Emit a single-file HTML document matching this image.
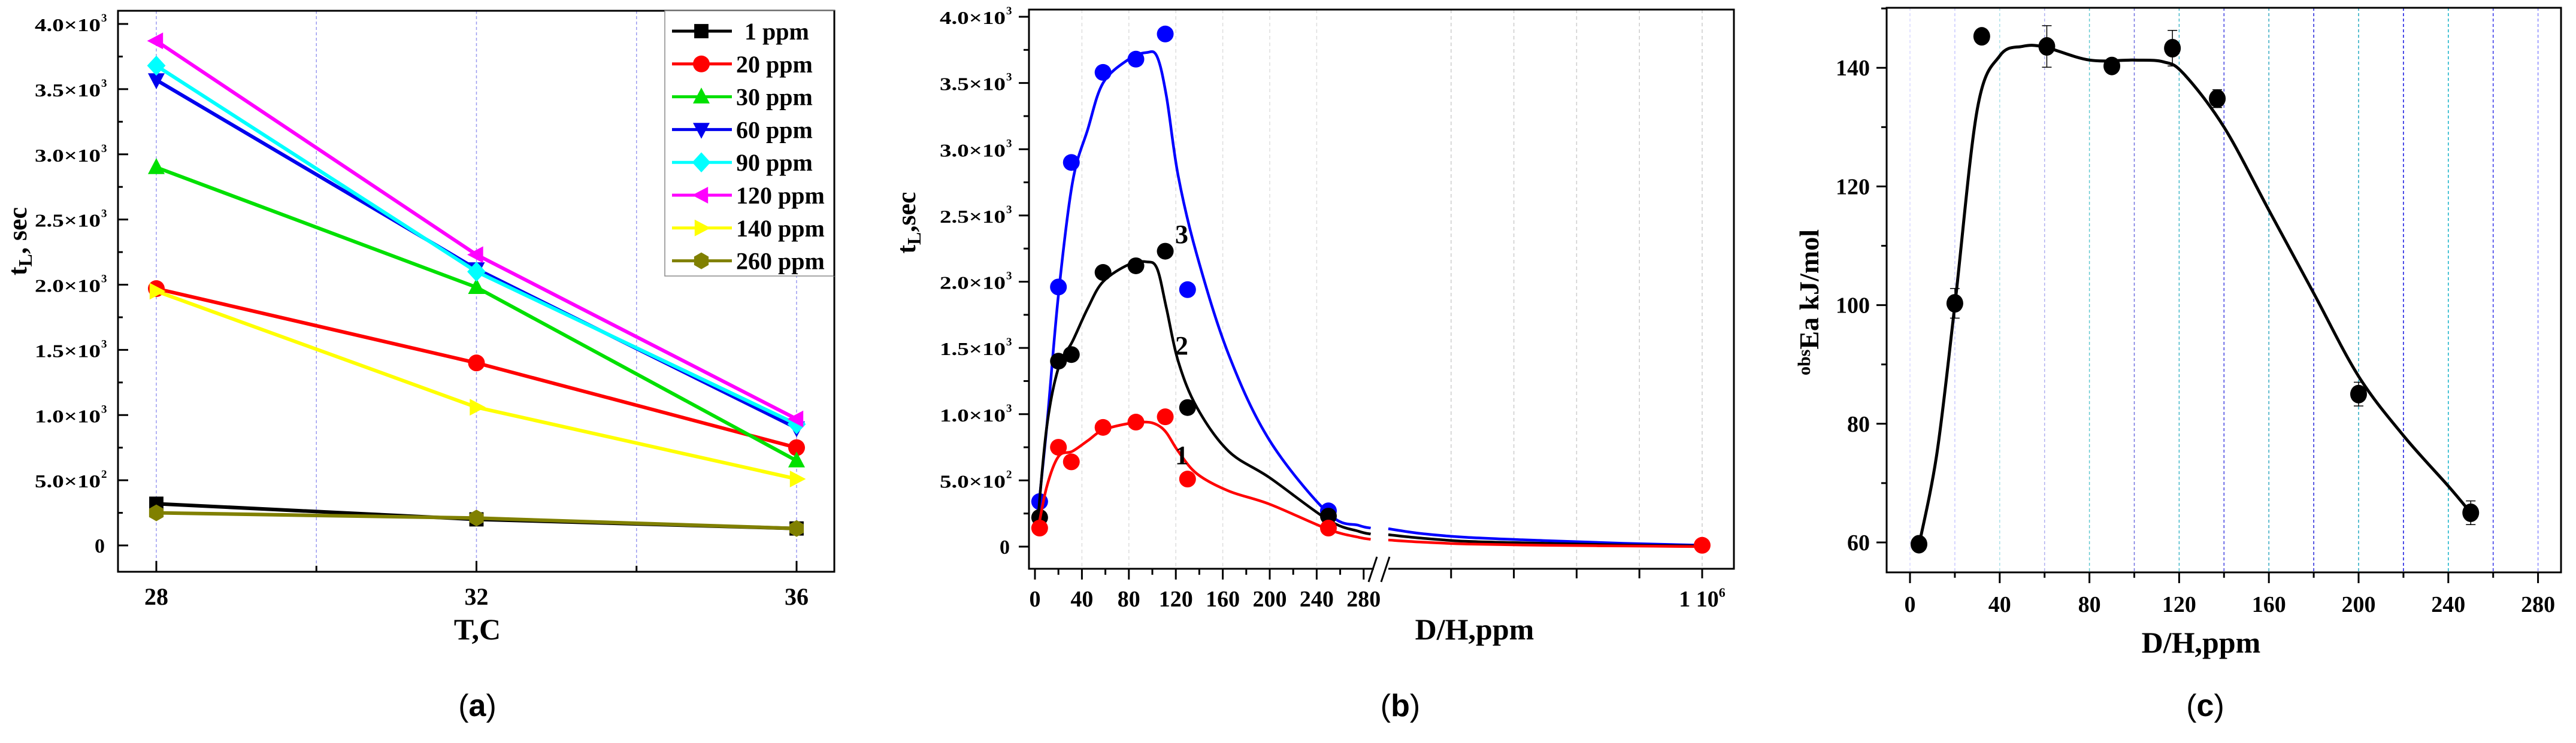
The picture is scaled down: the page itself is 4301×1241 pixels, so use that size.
<!DOCTYPE html>
<html><head><meta charset="utf-8"><style>
html,body{margin:0;padding:0;background:#fff;}
svg{display:block;font-family:"Liberation Serif",serif;font-weight:bold;}
</style></head><body>
<svg id="fig" xmlns="http://www.w3.org/2000/svg" width="4301" height="1241" viewBox="0 0 4301 1241">
<rect width="4301" height="1241" fill="#fff"/>
</svg>
<script>
// ---------- Panel (a) data ----------
const tempsA = [28, 32, 36];
const seriesNamesA = ['1 ppm','20 ppm','30 ppm','60 ppm','90 ppm','120 ppm','140 ppm','260 ppm'];
const s1ppm = [320, 200, 130];
const s20ppm = [1970, 1400, 750];
const s30ppm = [2900, 1980, 650];
const s60ppm = [3570, 2120, 900];
const s90ppm = [3680, 2100, 930];
const s120ppm = [3870, 2230, 970];
const s140ppm = [1950, 1060, 510];
const s260ppm = [250, 210, 130];
const yTicksA = [0, 500, 1000, 1500, 2000, 2500, 3000, 3500, 4000];
const yTickMantA = ['0','5.0×10','1.0×10','1.5×10','2.0×10','2.5×10','3.0×10','3.5×10','4.0×10'];
const yTickExpA = ['','2','3','3','3','3','3','3','3'];
const xTicksA = [28, 32, 36];

// ---------- Panel (b) data ----------
const dhB = [4, 20, 31, 58, 86, 111, 130, 250];
const curve1Pts = [140, 750, 640, 900, 940, 980, 510, 140];
const curve2Pts = [220, 1400, 1450, 2070, 2120, 2230, 1050, 230];
const curve3Pts = [340, 1960, 2900, 3580, 3680, 3870, 1940, 270];
const far1Pt = 10;
const fitX = [2, 10, 20, 32, 45, 58, 80, 95, 104, 112, 122, 138, 165, 200, 250, 276, 286];
const fit1 = [100, 450, 680, 720, 800, 880, 930, 940, 920, 860, 720, 550, 420, 320, 130, 70, 55];
const fit2 = [150, 900, 1350, 1550, 1800, 2000, 2130, 2150, 2100, 1800, 1400, 1050, 720, 520, 200, 115, 95];
const fit3 = [200, 900, 1900, 2750, 3150, 3500, 3680, 3730, 3700, 3400, 2800, 2200, 1450, 800, 250, 160, 140];
const tailU = [0, 0.1, 0.25, 0.5, 0.75, 1];
const tail1 = [50, 35, 20, 10, 5, 0];
const tail2 = [90, 65, 40, 25, 12, 5];
const tail3 = [135, 100, 70, 45, 25, 10];
const xTicksB = [0, 40, 80, 120, 160, 200, 240, 280];

// ---------- Panel (c) data ----------
const dhC = [4, 20, 32, 61, 90, 117, 137, 200, 250];
const eaC = [59.7, 100.3, 145.3, 143.6, 140.3, 143.3, 134.8, 85, 65];
const errC = [1, 2.5, 1, 3.5, 1, 3, 1.5, 2, 2];
const fitXC = [4, 12, 20, 30, 40, 50, 60, 80, 100, 113, 122, 140, 160, 180, 200, 220, 240, 250];
const fitYC = [59.5, 75, 100, 133, 142, 143.6, 143.5, 141.3, 141.3, 141, 139, 130, 116, 102, 88, 78, 69.5, 65];
const yTicksC = [60, 80, 100, 120, 140];
const xTicksC = [0, 40, 80, 120, 160, 200, 240, 280];

const svg = document.getElementById('fig');
const NS = 'http://www.w3.org/2000/svg';
function mk(tag, attrs, parent) {
  const e = document.createElementNS(NS, tag);
  for (const k in attrs) e.setAttribute(k, attrs[k]);
  (parent || svg).appendChild(e);
  return e;
}
function txt(x, y, s, size, anchor, parent, len) {
  const t = mk('text', {x: x, y: y, 'font-size': size, 'text-anchor': anchor || 'middle', fill: '#000'}, parent);
  if (len) { t.setAttribute('textLength', len); t.setAttribute('lengthAdjust', 'spacingAndGlyphs'); }
  t.textContent = s;
  return t;
}
function smooth(pts) {
  let d = 'M' + pts[0][0] + ',' + pts[0][1];
  for (let i = 0; i < pts.length - 1; i++) {
    const p0 = pts[i - 1] || pts[i], p1 = pts[i], p2 = pts[i + 1], p3 = pts[i + 2] || p2;
    const c1x = p1[0] + (p2[0] - p0[0]) / 6, c1y = p1[1] + (p2[1] - p0[1]) / 6;
    const c2x = p2[0] - (p3[0] - p1[0]) / 6, c2y = p2[1] - (p3[1] - p1[1]) / 6;
    d += ' C' + c1x + ',' + c1y + ' ' + c2x + ',' + c2y + ' ' + p2[0] + ',' + p2[1];
  }
  return d;
}
function sciLabel(xr, y, mant, exp, parent) {
  if (!exp) { txt(xr - 2, y + 12, mant, 34, 'end', parent); return; }
  txt(xr - 9, y + 12, mant, 31, 'end', parent, 110);
  txt(xr - 8, y - 4, exp, 19, 'start', parent);
}

// ================= Panel A =================
const gA = mk('g', {});


const xA = t => 261 + (t - 28) * (1330 - 261) / 8;
const yA = v => 911 - v * (911 - 40) / 4000;
[28, 30, 32, 34, 36].forEach(t => {
  const l = mk('line', {x1: xA(t), x2: xA(t), y1: 18, y2: 955, stroke: '#9a9af0', 'stroke-width': 1.5, 'stroke-dasharray': '5,4'}, gA);
  
  
  mk('line', {x1: xA(t), x2: xA(t), y1: 955, y2: t % 4 === 0 ? 937 : 945, stroke: '#000', 'stroke-width': 3}, gA);
});
for (let v = 0; v <= 4000; v += 250) {
  mk('line', {x1: 197, x2: v % 500 === 0 ? 214 : 205, y1: yA(v), y2: yA(v), stroke: '#000', 'stroke-width': 3}, gA);
}
yTicksA.forEach((v, i) => sciLabel(177, yA(v), yTickMantA[i], yTickExpA[i], gA));
xTicksA.forEach(t => txt(xA(t), 1010, String(t), 40, 'middle', gA));
const seriesA = [s1ppm, s20ppm, s30ppm, s60ppm, s90ppm, s120ppm, s140ppm, s260ppm];
const colorsA = ['#000', '#ff0000', '#00e000', '#0000ee', '#00ffff', '#ff00ff', '#ffff00', '#808000'];
const shapesA = ['square', 'circle', 'up', 'down', 'diamond', 'left', 'right', 'hex'];
function marker(shape, cx, cy, r, color, parent) {
  let e;
  if (shape === 'square') e = mk('rect', {x: cx - r * 0.85, y: cy - r * 0.85, width: r * 1.7, height: r * 1.7, fill: color}, parent);
  else if (shape === 'circle') e = mk('circle', {cx: cx, cy: cy, r: r, fill: color}, parent);
  else {
    let pts;
    if (shape === 'up') pts = [[0, -r * 1.1], [r, r * 0.8], [-r, r * 0.8]];
    else if (shape === 'down') pts = [[0, r * 1.1], [r, -r * 0.8], [-r, -r * 0.8]];
    else if (shape === 'left') pts = [[-r * 1.1, 0], [r * 0.8, -r], [r * 0.8, r]];
    else if (shape === 'right') pts = [[r * 1.1, 0], [-r * 0.8, -r], [-r * 0.8, r]];
    else if (shape === 'diamond') pts = [[0, -r * 1.2], [r * 1.1, 0], [0, r * 1.2], [-r * 1.1, 0]];
    else pts = [0, 1, 2, 3, 4, 5].map(k => [r * Math.cos(Math.PI / 3 * k + Math.PI / 6), r * Math.sin(Math.PI / 3 * k + Math.PI / 6)]);
    e = mk('polygon', {points: pts.map(p => (cx + p[0]) + ',' + (cy + p[1])).join(' '), fill: color}, parent);
  }
  return e;
}
seriesA.forEach((vals, si) => {
  const g = mk('g', {}, gA);
  
  
  mk('polyline', {points: vals.map((v, i) => xA(tempsA[i]) + ',' + yA(v)).join(' '), fill: 'none', stroke: colorsA[si], 'stroke-width': 6}, g);
  vals.forEach((v, i) => {
    const m = marker(shapesA[si], xA(tempsA[i]), yA(v), 14, colorsA[si], g);
    
    
  });
});
const frA = mk('rect', {x: 197, y: 18, width: 1196, height: 937, fill: 'none', stroke: '#000', 'stroke-width': 3}, gA);


const leg = mk('g', {}, gA);


mk('rect', {x: 1110, y: 18, width: 283, height: 443, fill: '#fff', stroke: '#888', 'stroke-width': 1.5}, leg);
mk('line', {x1: 1393, x2: 1393, y1: 18, y2: 461, stroke: '#000', 'stroke-width': 3}, leg);
seriesNamesA.forEach((n, i) => {
  const y = 52 + i * 54.8;
  const e = mk('g', {}, leg);
  
  
  mk('line', {x1: 1122, x2: 1222, y1: y, y2: y, stroke: colorsA[i], 'stroke-width': 5}, e);
  marker(shapesA[i], 1171, y, 14, colorsA[i], e);
  txt(i === 0 ? 1243 : 1229, y + 14, n, 40, 'start', e);
});
const ytA = mk('text', {x: 0, y: 0, 'font-size': 44, 'text-anchor': 'middle', transform: 'translate(44,403) rotate(-90)'}, gA);


ytA.innerHTML = 't<tspan font-size="32" dy="9">L</tspan><tspan dy="-9">, sec</tspan>';
const xtA = txt(797, 1068, 'T,C', 50, 'middle', gA);


const capA = mk('text', {x: 797, y: 1196, 'font-size': 52, 'text-anchor': 'middle', 'font-family': '"Liberation Sans",sans-serif', 'font-weight': 'normal'});


capA.innerHTML = '(<tspan font-weight="bold">a</tspan>)';

// ================= Panel B =================
const gB = mk('g', {});


const xB = v => 1728 + v * 1.96;
const yB = v => 913 - v * (913 - 28) / 4000;
const xBr = u => 2318 + u * (2842 - 2318);
for (let k = 1; k <= 5; k++) {
  const gx = 2318 + k * 104.8;
  const l = mk('line', {x1: gx, x2: gx, y1: 16, y2: 950, stroke: '#ccc', 'stroke-width': 1.5, 'stroke-dasharray': '6,5'}, gB);
  
  
  mk('line', {x1: gx, x2: gx, y1: 950, y2: 966, stroke: '#000', 'stroke-width': 3}, gB);
}
for (let v = 40; v <= 240; v += 40) {
  mk('line', {x1: xB(v), x2: xB(v), y1: 16, y2: 950, stroke: '#ddd', 'stroke-width': 1.5, 'stroke-dasharray': '6,5'}, gB);
}
for (let v = 0; v <= 280; v += 20) mk('line', {x1: xB(v), x2: xB(v), y1: 950, y2: v % 40 === 0 ? 968 : 960, stroke: '#000', 'stroke-width': 3}, gB);
for (let v = 0; v <= 4000; v += 250) mk('line', {x1: 1718, x2: 1718 - (v % 500 === 0 ? 17 : 9), y1: yB(v), y2: yB(v), stroke: '#000', 'stroke-width': 3}, gB);
yTicksA.forEach((v, i) => sciLabel(1688, yB(v), yTickMantA[i], yTickExpA[i], gB));
xTicksB.forEach(v => txt(xB(v), 1013, String(v), 38, 'middle', gB));
const l6 = mk('text', {x: 2842, y: 1013, 'font-size': 38, 'text-anchor': 'middle'}, gB);
l6.innerHTML = '1 10<tspan font-size="22" dy="-16">6</tspan>';
const colorsB = ['#ff0000', '#000', '#0000ff'];
const fitsB = [fit1, fit2, fit3];
const tailsB = [tail1, tail2, tail3];
const ptsB = [curve1Pts, curve2Pts, curve3Pts];
[2, 1, 0].forEach(si => {
  const g = mk('g', {}, gB);
  
  
  mk('path', {d: smooth(fitX.map((x, i) => [xB(x), yB(fitsB[si][i])])), fill: 'none', stroke: colorsB[si], 'stroke-width': 4.5}, g);
  mk('path', {d: smooth(tailU.map((u, i) => [xBr(u), yB(tailsB[si][i])])), fill: 'none', stroke: colorsB[si], 'stroke-width': 4.5}, g);
  ptsB[si].forEach((v, i) => {
    const c = mk('circle', {cx: xB(dhB[i]), cy: yB(v), r: 14, fill: colorsB[si]}, g);
    
    
  });
});
const farPt = mk('circle', {cx: xBr(1), cy: yB(far1Pt), r: 14, fill: '#ff0000'}, gB);


mk('path', {d: 'M2294,950 L1718,950 L1718,16 L2895,16 L2895,950 L2318,950', fill: 'none', stroke: '#000', 'stroke-width': 3}, gB);
mk('rect', {x: 2298, y: 905, width: 16, height: 70, fill: '#fff'}, gB);
mk('line', {x1: 2285, y1: 972, x2: 2299, y2: 930, stroke: '#000', 'stroke-width': 3}, gB);
mk('line', {x1: 2306, y1: 972, x2: 2320, y2: 930, stroke: '#000', 'stroke-width': 3}, gB);
['1', '2', '3'].forEach((s, i) => {
  const t = txt(1973, [775, 592, 406][i], s, 44, 'middle', gB);
  
  
});
const ytB = mk('text', {x: 0, y: 0, 'font-size': 44, 'text-anchor': 'middle', transform: 'translate(1528,372) rotate(-90)'}, gB);


ytB.innerHTML = 't<tspan font-size="32" dy="9">L</tspan><tspan dy="-9">,sec</tspan>';
const xtB = txt(2462, 1068, 'D/H,ppm', 50, 'middle', gB);


const capB = mk('text', {x: 2338, y: 1196, 'font-size': 52, 'text-anchor': 'middle', 'font-family': '"Liberation Sans",sans-serif', 'font-weight': 'normal'});


capB.innerHTML = '(<tspan font-weight="bold">b</tspan>)';

// ================= Panel C =================
const gC = mk('g', {});


const xC = v => 3189 + v * 3.745;
const yC = v => 906 - (v - 60) * 9.91;
const gridColC = ['#d8d8ff', '#c8c8ff', '#a8e0e8', '#b0b0f0', '#60c8d0', '#7070e0', '#40b8c8', '#4040e0', '#30a8c0', '#2020d8', '#20a8c0', '#1010e0', '#10b0c8', '#3030e8'];
for (let v = 0; v <= 280; v += 20) {
  const l = mk('line', {x1: xC(v), x2: xC(v), y1: 13, y2: 956, stroke: gridColC[v / 20] || '#88f', 'stroke-width': 1.5, 'stroke-dasharray': '5,4'}, gC);
  
  
  mk('line', {x1: xC(v), x2: xC(v), y1: 956, y2: v % 40 === 0 ? 974 : 965, stroke: '#000', 'stroke-width': 3}, gC);
}
for (let v = 60; v <= 150; v += 10) mk('line', {x1: 3150, x2: 3150 - (v % 20 === 0 ? 17 : 9), y1: yC(v), y2: yC(v), stroke: '#000', 'stroke-width': 3}, gC);
yTicksC.forEach(v => txt(3122, yC(v) + 13, String(v), 38, 'end', gC));
xTicksC.forEach(v => txt(xC(v), 1022, String(v), 38, 'middle', gC));
const fitC = mk('path', {d: smooth(fitXC.map((x, i) => [xC(x), yC(fitYC[i])])), fill: 'none', stroke: '#000', 'stroke-width': 5}, gC);


dhC.forEach((x, i) => {
  const g = mk('g', {}, gC);
  
  
  const cx = xC(x), y1 = yC(eaC[i] + errC[i]), y2 = yC(eaC[i] - errC[i]);
  mk('line', {x1: cx, x2: cx, y1: y1, y2: y2, stroke: '#000', 'stroke-width': 1.5}, g);
  mk('line', {x1: cx - 8, x2: cx + 8, y1: y1, y2: y1, stroke: '#000', 'stroke-width': 1.5}, g);
  mk('line', {x1: cx - 8, x2: cx + 8, y1: y2, y2: y2, stroke: '#000', 'stroke-width': 1.5}, g);
  mk('ellipse', {cx: cx, cy: yC(eaC[i]), rx: 14, ry: 15.5, fill: '#000'}, g);
});
const frC = mk('rect', {x: 3150, y: 13, width: 1126, height: 943, fill: 'none', stroke: '#000', 'stroke-width': 3}, gC);


const ytC = mk('text', {x: 0, y: 0, 'font-size': 46, 'text-anchor': 'middle', transform: 'translate(3036,505) rotate(-90)'}, gC);


ytC.innerHTML = '<tspan font-size="30" dy="-14">obs</tspan><tspan dy="14">Ea kJ/mol</tspan>';
const xtC = txt(3675, 1090, 'D/H,ppm', 50, 'middle', gC);


const capC = mk('text', {x: 3682, y: 1196, 'font-size': 52, 'text-anchor': 'middle', 'font-family': '"Liberation Sans",sans-serif', 'font-weight': 'normal'});


capC.innerHTML = '(<tspan font-weight="bold">c</tspan>)';
</script>
</body></html>
